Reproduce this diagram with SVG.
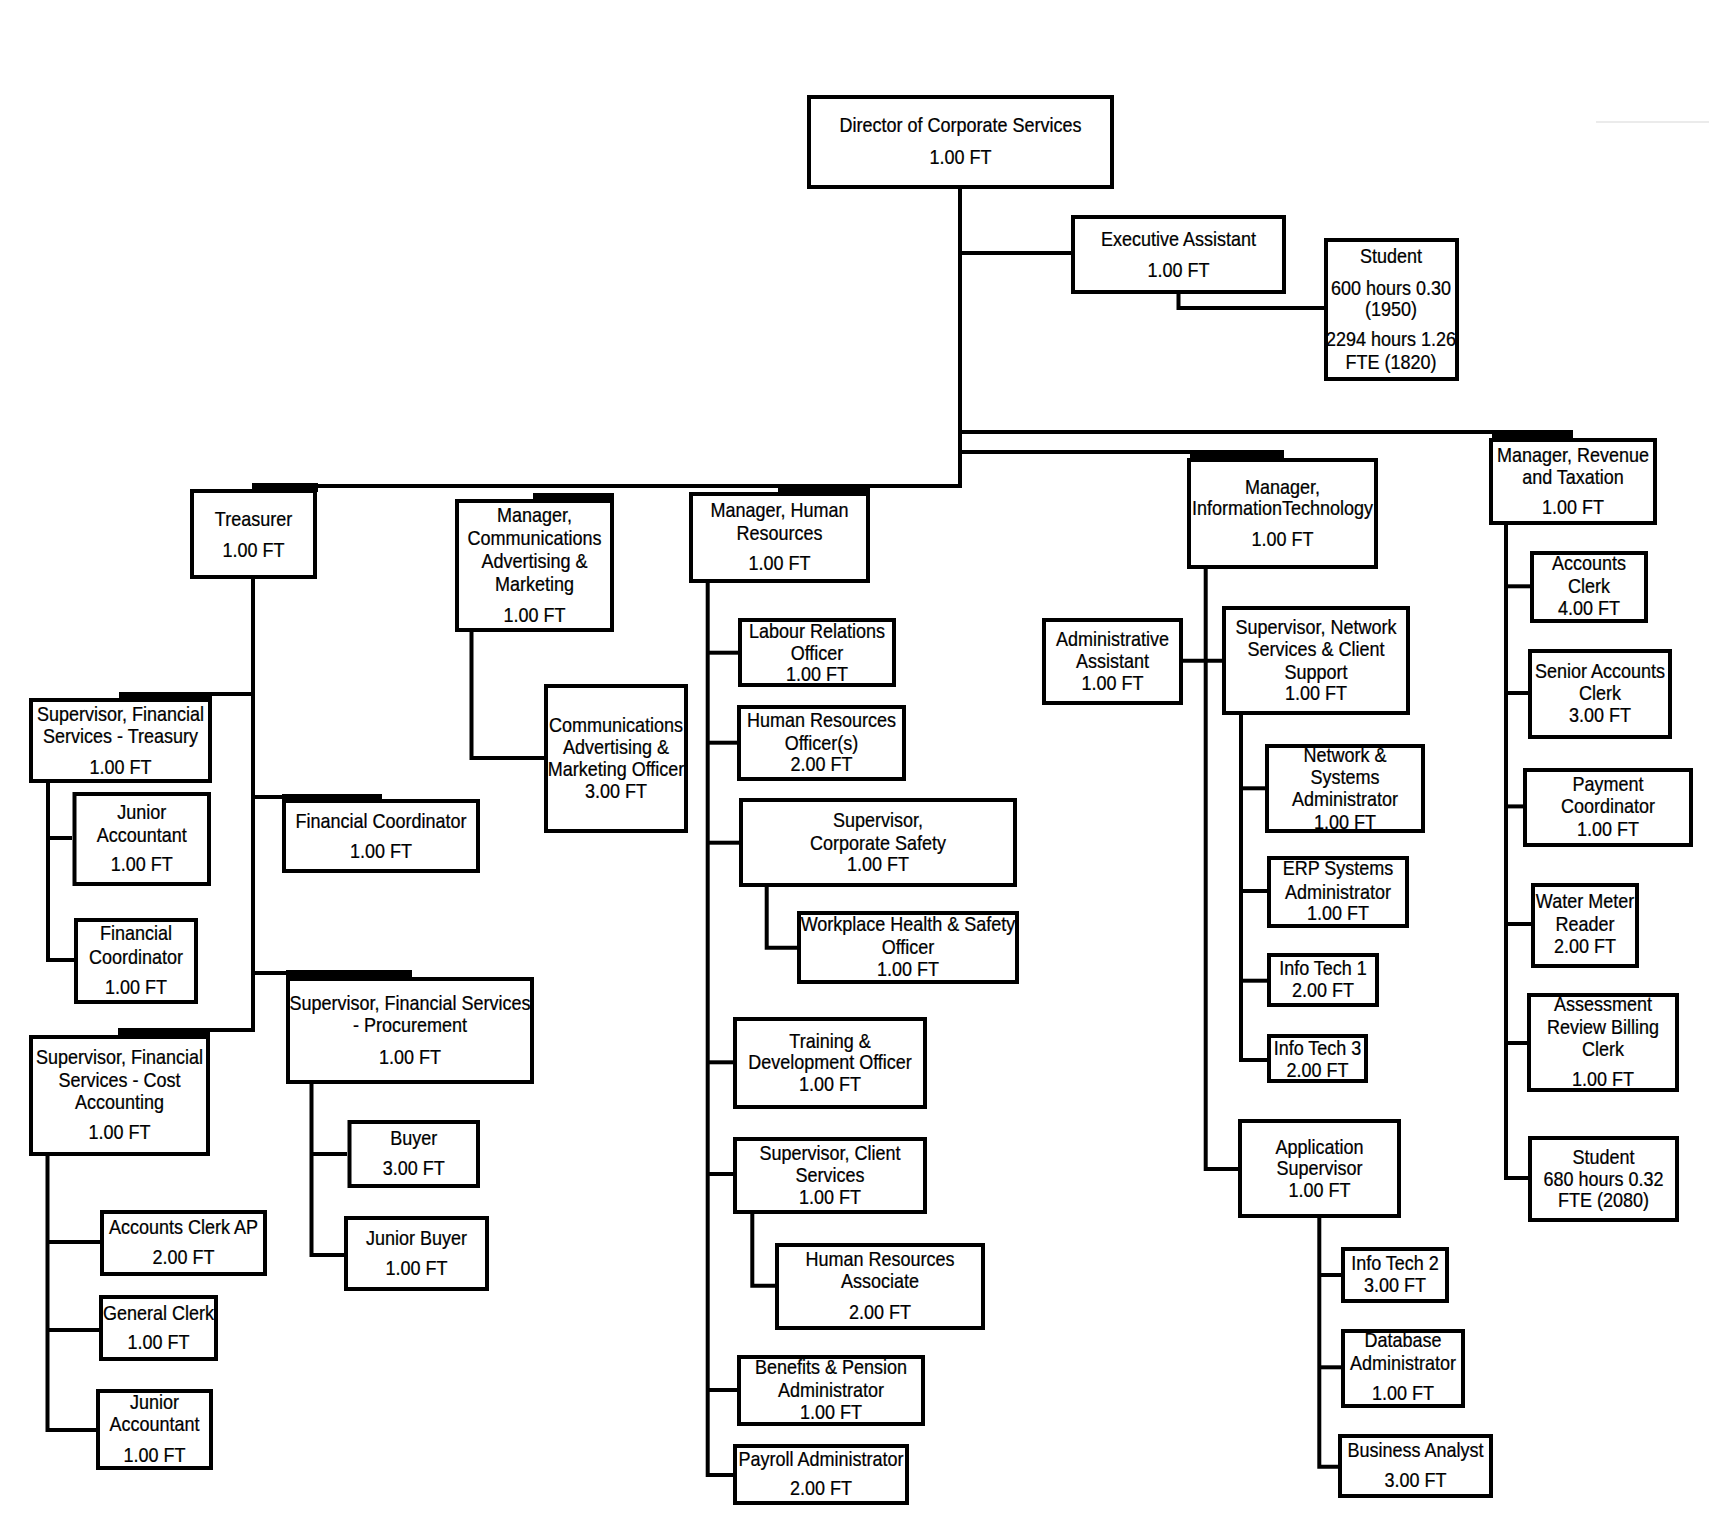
<svg xmlns="http://www.w3.org/2000/svg" width="1709" height="1525" viewBox="0 0 1709 1525">
<style>
.b{fill:#fff;stroke:#000;stroke-width:4}
.c{fill:none;stroke:#000;stroke-width:4;stroke-linejoin:miter}
.t{fill:#000}
text{font-family:"Liberation Sans",Arial,sans-serif;font-size:20px;text-anchor:middle;fill:#000;stroke:#000;stroke-width:0.25}
</style>
<rect x="0" y="0" width="1709" height="1525" fill="#fff"/>
<line x1="1596" y1="122" x2="1709" y2="122" stroke="#e4e4e4" stroke-width="1.5"/>
<g id="connectors">
<path class="c" d="M960 189V486H252"/>
<path class="c" d="M960 253H1071"/>
<path class="c" d="M1178.5 294V308H1324"/>
<path class="c" d="M960 452H1284"/>
<path class="c" d="M960 432H1573"/>
<rect class="t" x="252" y="483" width="66" height="9"/>
<rect class="t" x="533" y="493" width="81" height="8"/>
<rect class="t" x="778" y="485" width="92" height="9"/>
<rect class="t" x="1190" y="450" width="94" height="10"/>
<rect class="t" x="1492" y="430" width="81" height="10"/>
<path class="c" d="M253 579V1030H210"/>
<path class="c" d="M253 694H212"/>
<path class="c" d="M253 797H282"/>
<path class="c" d="M253 973H286"/>
<rect class="t" x="119" y="692" width="93" height="8"/>
<rect class="t" x="282" y="794" width="100" height="7"/>
<rect class="t" x="286" y="970" width="126" height="9"/>
<rect class="t" x="118" y="1028" width="92" height="9"/>
<path class="c" d="M48 783V960H74"/>
<path class="c" d="M48 838H72"/>
<path class="c" d="M47.5 1156V1430H96"/>
<path class="c" d="M47.5 1242H100"/>
<path class="c" d="M47.5 1330H99"/>
<path class="c" d="M311.5 1084V1255H344"/>
<path class="c" d="M311.5 1154H347"/>
<path class="c" d="M471.5 632V758H544"/>
<path class="c" d="M707.7 583V1475H733"/>
<path class="c" d="M707.7 652.7H738"/>
<path class="c" d="M707.7 742.7H737"/>
<path class="c" d="M707.7 842.7H739"/>
<path class="c" d="M707.7 1062.3H733"/>
<path class="c" d="M707.7 1174H733"/>
<path class="c" d="M707.7 1390H737"/>
<path class="c" d="M766.7 887V947.7H797"/>
<path class="c" d="M752.3 1214V1285.7H775"/>
<path class="c" d="M1205.7 569V1169H1238"/>
<path class="c" d="M1183 660.7H1222"/>
<path class="c" d="M1241 715V1060H1267"/>
<path class="c" d="M1241 788.3H1265"/>
<path class="c" d="M1241 891H1267"/>
<path class="c" d="M1241 980.7H1267"/>
<path class="c" d="M1319.3 1218V1466.7H1338"/>
<path class="c" d="M1319.3 1275H1341"/>
<path class="c" d="M1319.3 1367.3H1341"/>
<path class="c" d="M1506 525V1178H1528"/>
<path class="c" d="M1506 586.3H1530"/>
<path class="c" d="M1506 693H1528"/>
<path class="c" d="M1506 806.4H1523"/>
<path class="c" d="M1506 924H1531"/>
<path class="c" d="M1506 1043H1527"/>
</g>
<g id="director"><rect class="b" x="809" y="97" width="303" height="90"/><g transform="translate(960.5 1) scale(0.9 1)"><text x="0" y="131">Director of Corporate Services</text><text x="0" y="163">1.00 FT</text></g></g>
<g id="executive-assistant"><rect class="b" x="1073" y="217" width="211" height="75"/><g transform="translate(1178.5 1) scale(0.9 1)"><text x="0" y="245">Executive Assistant</text><text x="0" y="276">1.00 FT</text></g></g>
<g id="student-1"><rect class="b" x="1326" y="240" width="131" height="139"/><g transform="translate(1391 1) scale(0.9 1)"><text x="0" y="262">Student</text><text x="0" y="294">600 hours 0.30</text><text x="0" y="315">(1950)</text><text x="0" y="345">2294 hours 1.26</text><text x="0" y="368">FTE (1820)</text></g></g>
<g id="treasurer"><rect class="b" x="192" y="491" width="123" height="86"/><g transform="translate(253.5 1) scale(0.9 1)"><text x="0" y="525">Treasurer</text><text x="0" y="556">1.00 FT</text></g></g>
<g id="manager-communications"><rect class="b" x="457" y="501" width="155" height="129"/><g transform="translate(534.5 1) scale(0.9 1)"><text x="0" y="521.5">Manager,</text><text x="0" y="544.5">Communications</text><text x="0" y="567">Advertising &amp;</text><text x="0" y="590">Marketing</text><text x="0" y="621">1.00 FT</text></g></g>
<g id="manager-hr"><rect class="b" x="691" y="494" width="177" height="87"/><g transform="translate(779.5 1) scale(0.9 1)"><text x="0" y="516">Manager, Human</text><text x="0" y="539">Resources</text><text x="0" y="569">1.00 FT</text></g></g>
<g id="manager-it"><rect class="b" x="1189" y="460" width="187" height="107"/><g transform="translate(1282.5 1) scale(0.9 1)"><text x="0" y="493">Manager,</text><text x="0" y="514">InformationTechnology</text><text x="0" y="545">1.00 FT</text></g></g>
<g id="manager-revenue"><rect class="b" x="1491" y="440" width="164" height="83"/><g transform="translate(1573 1) scale(0.9 1)"><text x="0" y="461">Manager, Revenue</text><text x="0" y="483">and Taxation</text><text x="0" y="513">1.00 FT</text></g></g>
<g id="supervisor-treasury"><rect class="b" x="31" y="700" width="179" height="81"/><g transform="translate(120.5 1) scale(0.9 1)"><text x="0" y="720">Supervisor, Financial</text><text x="0" y="742">Services - Treasury</text><text x="0" y="773">1.00 FT</text></g></g>
<g id="junior-accountant-1"><rect class="b" x="74.5" y="794" width="134.5" height="90"/><g transform="translate(141.75 1) scale(0.9 1)"><text x="0" y="818">Junior</text><text x="0" y="841">Accountant</text><text x="0" y="870">1.00 FT</text></g></g>
<g id="financial-coordinator-1"><rect class="b" x="76" y="920" width="120" height="82"/><g transform="translate(136 1) scale(0.9 1)"><text x="0" y="939">Financial</text><text x="0" y="963">Coordinator</text><text x="0" y="993">1.00 FT</text></g></g>
<g id="financial-coordinator-2"><rect class="b" x="284" y="801" width="194" height="70"/><g transform="translate(381 1) scale(0.9 1)"><text x="0" y="827">Financial Coordinator</text><text x="0" y="857">1.00 FT</text></g></g>
<g id="supervisor-procurement"><rect class="b" x="288" y="979" width="244" height="103"/><g transform="translate(410 1) scale(0.9 1)"><text x="0" y="1009">Supervisor, Financial Services</text><text x="0" y="1031">- Procurement</text><text x="0" y="1063">1.00 FT</text></g></g>
<g id="supervisor-cost-accounting"><rect class="b" x="31" y="1037" width="177" height="117"/><g transform="translate(119.5 1) scale(0.9 1)"><text x="0" y="1063">Supervisor, Financial</text><text x="0" y="1086">Services - Cost</text><text x="0" y="1108">Accounting</text><text x="0" y="1138">1.00 FT</text></g></g>
<g id="accounts-clerk-ap"><rect class="b" x="102" y="1212" width="163" height="62"/><g transform="translate(183.5 1) scale(0.9 1)"><text x="0" y="1233">Accounts Clerk AP</text><text x="0" y="1263">2.00 FT</text></g></g>
<g id="general-clerk"><rect class="b" x="101" y="1297" width="115" height="62"/><g transform="translate(158.5 1) scale(0.9 1)"><text x="0" y="1319">General Clerk</text><text x="0" y="1348">1.00 FT</text></g></g>
<g id="junior-accountant-2"><rect class="b" x="98" y="1391" width="113" height="77"/><g transform="translate(154.5 1) scale(0.9 1)"><text x="0" y="1408">Junior</text><text x="0" y="1430">Accountant</text><text x="0" y="1461">1.00 FT</text></g></g>
<g id="buyer"><rect class="b" x="349.5" y="1122" width="128.5" height="64"/><g transform="translate(413.75 1) scale(0.9 1)"><text x="0" y="1144">Buyer</text><text x="0" y="1174">3.00 FT</text></g></g>
<g id="junior-buyer"><rect class="b" x="346" y="1218" width="141" height="71"/><g transform="translate(416.5 1) scale(0.9 1)"><text x="0" y="1244">Junior Buyer</text><text x="0" y="1274">1.00 FT</text></g></g>
<g id="communications-officer"><rect class="b" x="546" y="686" width="140" height="145"/><g transform="translate(616 1) scale(0.9 1)"><text x="0" y="731">Communications</text><text x="0" y="753">Advertising &amp;</text><text x="0" y="775">Marketing Officer</text><text x="0" y="797">3.00 FT</text></g></g>
<g id="labour-relations"><rect class="b" x="740" y="620" width="154" height="65"/><g transform="translate(817 1) scale(0.9 1)"><text x="0" y="637">Labour Relations</text><text x="0" y="659">Officer</text><text x="0" y="680">1.00 FT</text></g></g>
<g id="hr-officers"><rect class="b" x="739" y="707" width="165" height="72"/><g transform="translate(821.5 1) scale(0.9 1)"><text x="0" y="726">Human Resources</text><text x="0" y="749">Officer(s)</text><text x="0" y="770">2.00 FT</text></g></g>
<g id="supervisor-safety"><rect class="b" x="741" y="800" width="274" height="85"/><g transform="translate(878 1) scale(0.9 1)"><text x="0" y="826">Supervisor,</text><text x="0" y="849">Corporate Safety</text><text x="0" y="870">1.00 FT</text></g></g>
<g id="whs-officer"><rect class="b" x="799" y="913" width="218" height="69"/><g transform="translate(908 1) scale(0.9 1)"><text x="0" y="930">Workplace Health &amp; Safety</text><text x="0" y="953">Officer</text><text x="0" y="975">1.00 FT</text></g></g>
<g id="training-officer"><rect class="b" x="735" y="1019" width="190" height="88"/><g transform="translate(830 1) scale(0.9 1)"><text x="0" y="1047">Training &amp;</text><text x="0" y="1068">Development Officer</text><text x="0" y="1090">1.00 FT</text></g></g>
<g id="supervisor-client"><rect class="b" x="735" y="1139" width="190" height="73"/><g transform="translate(830 1) scale(0.9 1)"><text x="0" y="1159">Supervisor, Client</text><text x="0" y="1181">Services</text><text x="0" y="1203">1.00 FT</text></g></g>
<g id="hr-associate"><rect class="b" x="777" y="1245" width="206" height="83"/><g transform="translate(880 1) scale(0.9 1)"><text x="0" y="1265">Human Resources</text><text x="0" y="1287">Associate</text><text x="0" y="1318">2.00 FT</text></g></g>
<g id="benefits-admin"><rect class="b" x="739" y="1357" width="184" height="67"/><g transform="translate(831 1) scale(0.9 1)"><text x="0" y="1373">Benefits &amp; Pension</text><text x="0" y="1396">Administrator</text><text x="0" y="1418">1.00 FT</text></g></g>
<g id="payroll-admin"><rect class="b" x="735" y="1446" width="172" height="57"/><g transform="translate(821 1) scale(0.9 1)"><text x="0" y="1465">Payroll Administrator</text><text x="0" y="1494">2.00 FT</text></g></g>
<g id="admin-assistant"><rect class="b" x="1044" y="620" width="137" height="83"/><g transform="translate(1112.5 1) scale(0.9 1)"><text x="0" y="645">Administrative</text><text x="0" y="667">Assistant</text><text x="0" y="689">1.00 FT</text></g></g>
<g id="supervisor-network"><rect class="b" x="1224" y="608" width="184" height="105"/><g transform="translate(1316 1) scale(0.9 1)"><text x="0" y="633">Supervisor, Network</text><text x="0" y="655">Services &amp; Client</text><text x="0" y="678">Support</text><text x="0" y="699">1.00 FT</text></g></g>
<g id="network-admin"><rect class="b" x="1267" y="746" width="156" height="85"/><g transform="translate(1345 1) scale(0.9 1)"><text x="0" y="761">Network &amp;</text><text x="0" y="783">Systems</text><text x="0" y="805">Administrator</text><text x="0" y="828">1.00 FT</text></g></g>
<g id="erp-admin"><rect class="b" x="1269" y="858" width="138" height="68"/><g transform="translate(1338 1) scale(0.9 1)"><text x="0" y="874">ERP Systems</text><text x="0" y="898">Administrator</text><text x="0" y="919">1.00 FT</text></g></g>
<g id="info-tech-1"><rect class="b" x="1269" y="955" width="108" height="50"/><g transform="translate(1323 1) scale(0.9 1)"><text x="0" y="974">Info Tech 1</text><text x="0" y="996">2.00 FT</text></g></g>
<g id="info-tech-3"><rect class="b" x="1269" y="1036" width="97" height="45"/><g transform="translate(1317.5 1) scale(0.9 1)"><text x="0" y="1054">Info Tech 3</text><text x="0" y="1076">2.00 FT</text></g></g>
<g id="application-supervisor"><rect class="b" x="1240" y="1121" width="159" height="95"/><g transform="translate(1319.5 1) scale(0.9 1)"><text x="0" y="1153">Application</text><text x="0" y="1174">Supervisor</text><text x="0" y="1196">1.00 FT</text></g></g>
<g id="info-tech-2"><rect class="b" x="1343" y="1249" width="104" height="52"/><g transform="translate(1395 1) scale(0.9 1)"><text x="0" y="1269">Info Tech 2</text><text x="0" y="1291">3.00 FT</text></g></g>
<g id="database-admin"><rect class="b" x="1343" y="1331" width="120" height="75"/><g transform="translate(1403 1) scale(0.9 1)"><text x="0" y="1346">Database</text><text x="0" y="1369">Administrator</text><text x="0" y="1399">1.00 FT</text></g></g>
<g id="business-analyst"><rect class="b" x="1340" y="1436" width="151" height="60"/><g transform="translate(1415.5 1) scale(0.9 1)"><text x="0" y="1456">Business Analyst</text><text x="0" y="1486">3.00 FT</text></g></g>
<g id="accounts-clerk"><rect class="b" x="1532" y="553" width="114" height="68"/><g transform="translate(1589 1) scale(0.9 1)"><text x="0" y="569">Accounts</text><text x="0" y="592">Clerk</text><text x="0" y="614">4.00 FT</text></g></g>
<g id="senior-accounts-clerk"><rect class="b" x="1530" y="651" width="140" height="86"/><g transform="translate(1600 1) scale(0.9 1)"><text x="0" y="677">Senior Accounts</text><text x="0" y="699">Clerk</text><text x="0" y="721">3.00 FT</text></g></g>
<g id="payment-coordinator"><rect class="b" x="1525" y="770" width="166" height="75"/><g transform="translate(1608 1) scale(0.9 1)"><text x="0" y="790">Payment</text><text x="0" y="812">Coordinator</text><text x="0" y="835">1.00 FT</text></g></g>
<g id="water-meter-reader"><rect class="b" x="1533" y="885" width="104" height="81"/><g transform="translate(1585 1) scale(0.9 1)"><text x="0" y="907">Water Meter</text><text x="0" y="930">Reader</text><text x="0" y="952">2.00 FT</text></g></g>
<g id="assessment-clerk"><rect class="b" x="1529" y="995" width="148" height="95"/><g transform="translate(1603 1) scale(0.9 1)"><text x="0" y="1010">Assessment</text><text x="0" y="1033">Review Billing</text><text x="0" y="1055">Clerk</text><text x="0" y="1085">1.00 FT</text></g></g>
<g id="student-2"><rect class="b" x="1530" y="1138" width="147" height="82"/><g transform="translate(1603.5 1) scale(0.9 1)"><text x="0" y="1163">Student</text><text x="0" y="1185">680 hours 0.32</text><text x="0" y="1206">FTE (2080)</text></g></g>
</svg>
